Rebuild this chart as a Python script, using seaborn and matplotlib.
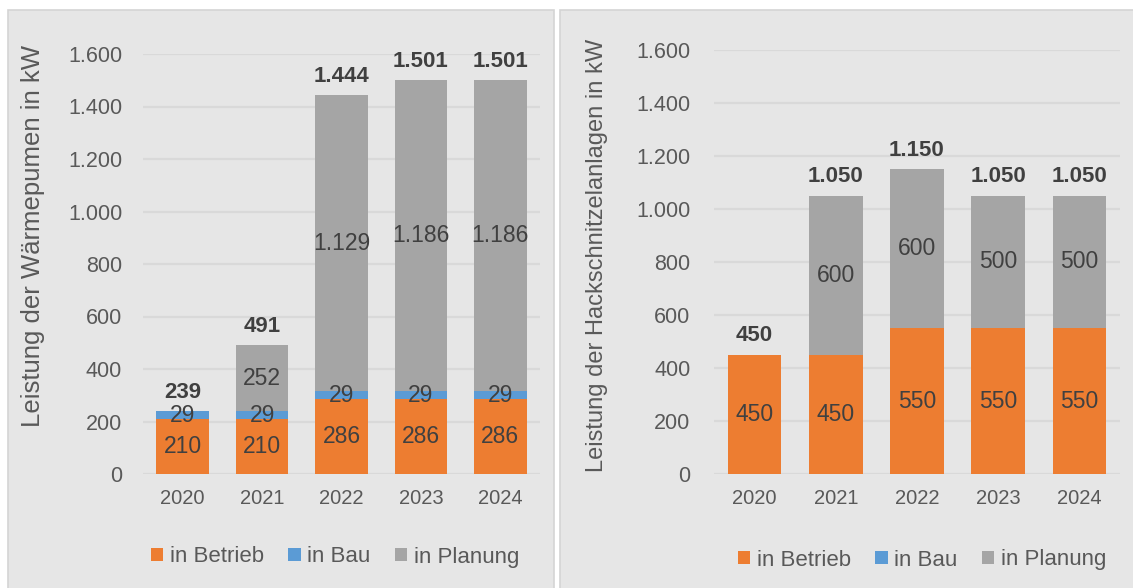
import matplotlib
matplotlib.use("Agg")
import matplotlib.pyplot as plt
import seaborn as sns
import pandas as pd
from matplotlib.patches import Rectangle, Patch

years = ["2020", "2021", "2022", "2023", "2024"]

# Wärmepumpen (left)
wp_betrieb = [210, 210, 286, 286, 286]
wp_bau = [29, 29, 29, 29, 29]
wp_planung = [0, 252, 1129, 1186, 1186]
wp_total = [239, 491, 1444, 1501, 1501]

# Hackschnitzelanlagen (right)
hs_betrieb = [450, 450, 550, 550, 550]
hs_bau = [0, 0, 0, 0, 0]
hs_planung = [0, 600, 600, 500, 500]
hs_total = [450, 1050, 1150, 1050, 1050]

series_names = ["in Betrieb", "in Bau", "in Planung"]
colors = {"in Betrieb": "#ED7D31", "in Bau": "#5B9BD5", "in Planung": "#A5A5A5"}

yticks = [0, 200, 400, 600, 800, 1000, 1200, 1400, 1600]

sns.set_theme(style="white")
plt.rcParams["font.family"] = ["Liberation Sans", "DejaVu Sans"]

W, H = 1133, 588
fig = plt.figure(figsize=(W / 100, H / 100), dpi=100)
fig.patch.set_facecolor("white")

BG = "#E6E6E6"
# panel backgrounds
for (x0, x1) in [(8, 554), (560, 1140)]:
    fig.patches.append(Rectangle((x0 / W, -0.01), (x1 - x0) / W, (H - 10) / H + 0.01,
                                 transform=fig.transFigure, facecolor=BG,
                                 edgecolor="#D4D4D4", linewidth=1.2, zorder=-10))


def fmt(v):
    return f"{v:,}".replace(",", ".")


def draw(ax, betrieb, bau, planung, total, ylabel, ypad, label_x, label_y, label_fs):
    df = pd.DataFrame({"Jahr": years, "Betrieb": betrieb, "Bau": bau,
                       "Planung": planung, "Total": total})
    df["cum_bau"] = df["Betrieb"] + df["Bau"]
    df["cum_plan"] = df["cum_bau"] + df["Planung"]
    ax.set_facecolor(BG)
    for col, name, z in [("cum_plan", "in Planung", 2), ("cum_bau", "in Bau", 3),
                         ("Betrieb", "in Betrieb", 4)]:
        sns.barplot(data=df, x="Jahr", y=col, color=colors[name], width=0.66,
                    ax=ax, saturation=1, zorder=z, linewidth=0, edgecolor="none")
    ax.set_ylim(0, 1600)
    ax.set_xlim(-0.5, 4.5)
    ax.set_yticks(yticks)
    ax.set_yticklabels([fmt(t) for t in yticks], fontsize=15.5, color="#595959")
    ax.tick_params(axis="x", labelsize=14.5, labelcolor="#595959", length=0, pad=11)
    ax.tick_params(axis="y", length=0, pad=ypad)
    ax.set_xlabel("")
    ax.set_ylabel("")
    ax.text(label_x, label_y, ylabel, transform=ax.transAxes, rotation=90,
            ha="center", va="center", fontsize=label_fs, color="#595959")
    for s in ax.spines.values():
        s.set_visible(False)
    ax.grid(axis="y", color="#D9D9D9", linewidth=1.6, zorder=0)
    ax.set_axisbelow(True)

    for i in range(len(years)):
        b, u, p, t = betrieb[i], bau[i], planung[i], total[i]
        if b > 0:
            ax.text(i, b / 2, fmt(b), ha="center", va="center", fontsize=16.5,
                    color="#404040", zorder=6)
        if u > 0:
            ax.text(i, b + u / 2, fmt(u), ha="center", va="center", fontsize=16.5,
                    color="#404040", zorder=6)
        if p > 0:
            ax.text(i, b + u + p / 2, fmt(p), ha="center", va="center", fontsize=16.5,
                    color="#404040", zorder=6)
        ax.annotate(fmt(t), (i, t), xytext=(0, 6), textcoords="offset points",
                    ha="center", va="bottom", fontsize=16, fontweight="bold",
                    color="#404040", zorder=6)


ax1 = fig.add_axes([143 / W, 114 / H, 397 / W, 420 / H])
draw(ax1, wp_betrieb, wp_bau, wp_planung, wp_total, "Leistung der Wärmepumen in kW",
     15, (33 - 143) / 397, (474 - 236) / 420, 18.5)

ax2 = fig.add_axes([714 / W, 114 / H, 406 / W, 424 / H])
draw(ax2, hs_betrieb, hs_bau, hs_planung, hs_total,
     "Leistung der Hackschnitzelanlagen in kW",
     17, (597 - 714) / 406, (474 - 255) / 424, 17)

handles = [Patch(facecolor=colors[n], edgecolor="none", label=n) for n in series_names]
for cx, cy in [(335, 557), (922, 560)]:
    fig.legend(handles=handles, loc="center", bbox_to_anchor=(cx / W, 1 - cy / H),
               ncol=3, frameon=False, fontsize=16, handlelength=0.55,
               handleheight=0.55, handletextpad=0.3, columnspacing=1.1,
               labelcolor="#595959")

fig.savefig("out.png", dpi=100, facecolor="white")
